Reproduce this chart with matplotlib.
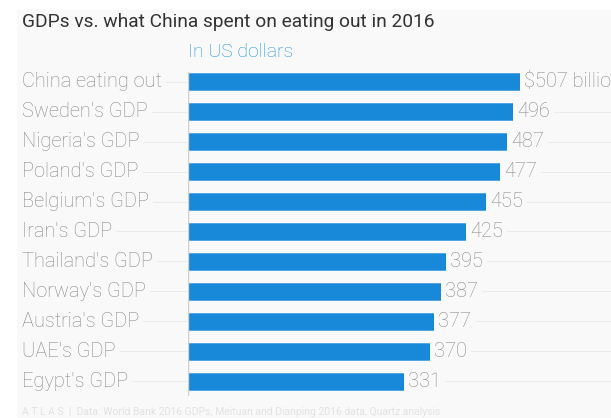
import matplotlib
matplotlib.use("Agg")
import matplotlib.pyplot as plt
from matplotlib.patches import Rectangle
from matplotlib.lines import Line2D
import matplotlib.transforms as mtransforms

categories = ["China eating out", "Sweden's GDP", "Nigeria's GDP", "Poland's GDP",
              "Belgium's GDP", "Iran's GDP", "Thailand's GDP", "Norway's GDP",
              "Austria's GDP", "UAE's GDP", "Egypt's GDP"]
values = [507, 496, 487, 477, 455, 425, 395, 387, 377, 370, 331]
value_labels = ["$507 billion", "496", "487", "477", "455", "425", "395", "387",
                "377", "370", "331"]

title = "GDPs vs. what China spent on eating out in 2016"
subtitle = "In US dollars"
footer = "A T L A S  |  Data: World Bank 2016 GDPs, Meituan and Dianping 2016 data, Quartz analysis"

W, H = 611, 418
BG = "#f9f9f9"
BAR = "#1789d8"
GREY = "#8a8a8a"
FONT = ["Roboto", "DejaVu Sans"]

fig = plt.figure(figsize=(W / 100, H / 100), dpi=100, facecolor="white")
fig.add_artist(Rectangle((17 / W, 0), 1 - 17 / W, 1 - 10 / H, transform=fig.transFigure,
                         facecolor=BG, edgecolor="none", zorder=-3))

ax = fig.add_axes([188 / W, 1 - 396 / H, (W - 188) / W, 329 / H])
ax.patch.set_visible(False)
n = len(categories)
ypos = list(range(n))
ax.barh(ypos, values, height=0.57, color=BAR, edgecolor="#4aa3e3", linewidth=0.6, zorder=2)
ax.set_ylim(n - 0.5, -0.5)
ax.set_xlim(0, (W - 188) / 0.659)
for s in ax.spines.values():
    s.set_visible(False)
ax.set_xticks([])
ax.set_yticks([])
ax.axvline(0, ymin=0, ymax=0.985, color="#d0d0d0", linewidth=1, zorder=3)

blend = mtransforms.blended_transform_factory(fig.transFigure, ax.transData)
for i, (cat, v, lab) in enumerate(zip(categories, values, value_labels)):
    fig.add_artist(Line2D([22 / W, 1], [i, i], transform=blend, color="#ebebeb",
                          linewidth=0.8, zorder=-1))
    fig.text(22 / W, i, cat, transform=blend, ha="left", va="center", fontsize=14.4,
             color=GREY, family=FONT, fontweight="light",
             bbox=dict(facecolor=BG, edgecolor="none", pad=3), zorder=3)
    ax.text(v + 3, i, lab, ha="left", va="center", fontsize=14.4, color=GREY,
            family=FONT, fontweight="light", clip_on=False,
            bbox=dict(facecolor=BG, edgecolor="none", pad=3), zorder=4)

fig.text(22 / W, 1 - 22 / H, title, ha="left", va="center", fontsize=13.8,
         color="#333333", family=FONT)
fig.text(188 / W, 1 - 52 / H, subtitle, ha="left", va="center", fontsize=14,
         color="#2496d6", family=FONT, fontweight="light")
fig.text(22 / W, 1 - 412 / H, footer, ha="left", va="center", fontsize=7.5,
         color="#e2e2e2", family=FONT)

fig.savefig("out.png", dpi=100, facecolor="white")
